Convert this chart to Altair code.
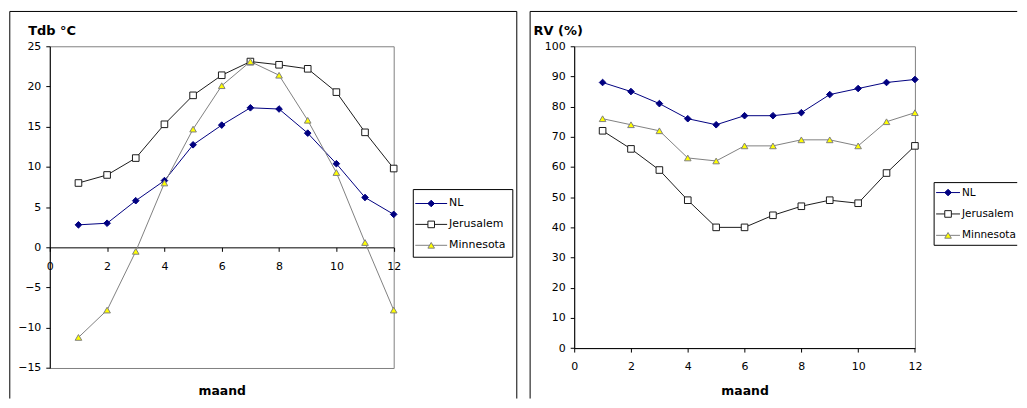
import altair as alt
import pandas as pd

# ---------------- data ----------------
months = list(range(1, 13))
series_names = ["NL", "Jerusalem", "Minnesota"]

tdb_nl = [2.8, 3.0, 5.8, 8.3, 12.75, 15.2, 17.35, 17.2, 14.2, 10.4, 6.2, 4.1]
tdb_jerusalem = [8.0, 9.0, 11.1, 15.3, 18.9, 21.4, 23.1, 22.7, 22.2, 19.3, 14.3, 9.8]
tdb_minnesota = [-11.2, -7.8, -0.5, 8.0, 14.7, 20.1, 23.1, 21.4, 15.8, 9.3, 0.6, -7.8]

rv_nl = [88, 85, 81, 76, 74, 77, 77, 78, 84, 86, 88, 89]
rv_jerusalem = [72, 66, 59, 49, 40, 40, 44, 47, 49, 48, 58, 67]
rv_minnesota = [76, 74, 72, 63, 62, 67, 67, 69, 69, 67, 75, 78]

x_ticks = [0, 2, 4, 6, 8, 10, 12]
tdb_ticks = [-15, -10, -5, 0, 5, 10, 15, 20, 25]
rv_ticks = [0, 10, 20, 30, 40, 50, 60, 70, 80, 90, 100]

x_title = "maand"
tdb_title = "Tdb °C"
rv_title = "RV (%)"

line_colors = ["#000080", "#1a1a1a", "#808080"]
marker_shapes = ["diamond", "square", "triangle-up"]
marker_fills = ["#000080", "#FFFFFF", "#FFFF00"]
marker_strokes = ["#000080", "#1a1a1a", "#808080"]

FONT = "DejaVu Sans"
SYM_SIZE = 44
PLOT_TOP = 45
FRAME_BOTTOM = 399


def long_df(values_by_series):
    rows = []
    for name, vals in zip(series_names, values_by_series):
        for m, v in zip(months, vals):
            rows.append({"maand": m, "waarde": v, "reeks": name})
    return pd.DataFrame(rows)


df_tdb = long_df([tdb_nl, tdb_jerusalem, tdb_minnesota])
df_rv = long_df([rv_nl, rv_jerusalem, rv_minnesota])
legend_df = pd.DataFrame({"reeks": series_names})
deco_df = pd.DataFrame({"k": [0]})

COLOR = alt.Color("reeks:N", scale=alt.Scale(domain=series_names, range=line_colors), legend=None)
SHAPE = alt.Shape("reeks:N", scale=alt.Scale(domain=series_names, range=marker_shapes), legend=None)
FILL = alt.Fill("reeks:N", scale=alt.Scale(domain=series_names, range=marker_fills), legend=None)
STROKE = alt.Stroke("reeks:N", scale=alt.Scale(domain=series_names, range=marker_strokes), legend=None)


def rule(x1, x2, y1, y2, color="black"):
    return alt.Chart(deco_df).mark_rule(color=color, strokeWidth=1).encode(
        x=alt.value(x1), x2=alt.value(x2), y=alt.value(y1), y2=alt.value(y2)
    )


def panel(df, ydomain, yticks, ytitle, width, height, origin_x, frame_rules, box_rules,
          leg, ytitle_x, xtitle_y):
    x_scale = alt.Scale(domain=[0, 12], nice=False, zero=False)
    y_scale = alt.Scale(domain=ydomain, nice=False, zero=False)
    zero_px = height * (ydomain[1] - 0) / (ydomain[1] - ydomain[0])

    x_axis = alt.Axis(
        values=x_ticks, offset=zero_px - height, labelFlush=False, labelOverlap=False,
        tickSize=4, labelPadding=9, grid=False, title=x_title,
        titleY=xtitle_y, titleBaseline="alphabetic", titleFontSize=12.5,
    )
    y_axis = alt.Axis(
        values=yticks, tickSize=4, labelPadding=5, grid=False, title=ytitle,
        labelOverlap=False,
        titleAngle=0, titleAlign="left", titleBaseline="alphabetic",
        titleX=ytitle_x - origin_x, titleY=33.0 - PLOT_TOP, titleFontSize=13,
    )
    X = alt.X("maand:Q", scale=x_scale, axis=x_axis)
    Y = alt.Y("waarde:Q", scale=y_scale, axis=y_axis)

    lines = alt.Chart(df).mark_line(strokeWidth=1).encode(x=X, y=Y, color=COLOR)
    points = alt.Chart(df).mark_point(filled=True, size=SYM_SIZE, strokeWidth=1, opacity=1).encode(
        x=X, y=Y, shape=SHAPE, fill=FILL, stroke=STROKE,
    )
    data_layer = alt.layer(lines, points)

    # legend drawn from the same colour / shape scales; rows are the band centres of a y scale
    step = (leg["row2"] - leg["row0"]) / 2
    LY = alt.Y("reeks:N", axis=None,
               scale=alt.Scale(domain=series_names, padding=0,
                               range=[leg["row0"] - step / 2 - PLOT_TOP,
                                      leg["row2"] + step / 2 - PLOT_TOP]))
    leg_lines = alt.Chart(legend_df).mark_rule(strokeWidth=1).encode(
        x=alt.value(leg["line0"] - origin_x), x2=alt.value(leg["line1"] - origin_x), y=LY, color=COLOR
    )
    leg_points = alt.Chart(legend_df).mark_point(filled=True, size=SYM_SIZE, strokeWidth=1, opacity=1).encode(
        x=alt.value((leg["line0"] + leg["line1"]) / 2 - origin_x), y=LY,
        shape=SHAPE, fill=FILL, stroke=STROKE,
    )
    leg_text = alt.Chart(legend_df).mark_text(
        align="left", baseline="middle", font=FONT, fontSize=leg["font"], color="black"
    ).encode(x=alt.value(leg["label"] - origin_x), y=LY, text="reeks:N")
    legend_layer = alt.layer(leg_lines, leg_points, leg_text)

    deco = [rule(a - origin_x, b - origin_x, c - PLOT_TOP, d - PLOT_TOP)
            for (a, b, c, d) in frame_rules + box_rules]
    return (
        alt.layer(*deco, data_layer, legend_layer)
        .resolve_scale(y="independent")
        .properties(width=width, height=height)
    )


# page-pixel layout of the Excel chart objects
L0 = 48.7
left = panel(
    df_tdb, [-15, 25], tdb_ticks, tdb_title,
    width=345.6, height=323.3, origin_x=L0,
    frame_rules=[(8.5, 518, 10, 10), (8.5, 8.5, 10, FRAME_BOTTOM), (518, 518, 10, FRAME_BOTTOM)],
    box_rules=[(414, 514, 189, 189), (414, 514, 257, 257), (414, 414, 189, 257), (514, 514, 189, 257)],
    leg=dict(row0=203, row2=245, line0=416, line1=448, label=450, font=11),
    ytitle_x=26.5, xtitle_y=147.9,
)
R0 = 573.3
right = panel(
    df_rv, [0, 100], rv_ticks, rv_title,
    width=342.4, height=303.3, origin_x=R0,
    frame_rules=[(529, 1018.5, 10, 10), (529, 529, 10, FRAME_BOTTOM)],
    box_rules=[(935, 1018.5, 182, 182), (935, 1018.5, 245, 245), (935, 935, 182, 245)],
    leg=dict(row0=192, row2=235, line0=937, line1=961, label=963, font=10.5),
    ytitle_x=532, xtitle_y=46.7,
)

chart = (
    alt.hconcat(left, right, spacing=10)
    .properties(padding={"left": 0, "top": 1.5, "right": 0, "bottom": 0})
    .configure_axis(
        labelFont=FONT, labelFontSize=11, labelColor="black",
        titleFont=FONT, titleFontWeight="bold", titleColor="black",
        domainColor="black", tickColor="black", domainWidth=1, tickWidth=1,
    )
    .configure_view(stroke="#808080", strokeWidth=1)
)

chart.save("out.html", embed_options={"renderer": "svg", "actions": False})
